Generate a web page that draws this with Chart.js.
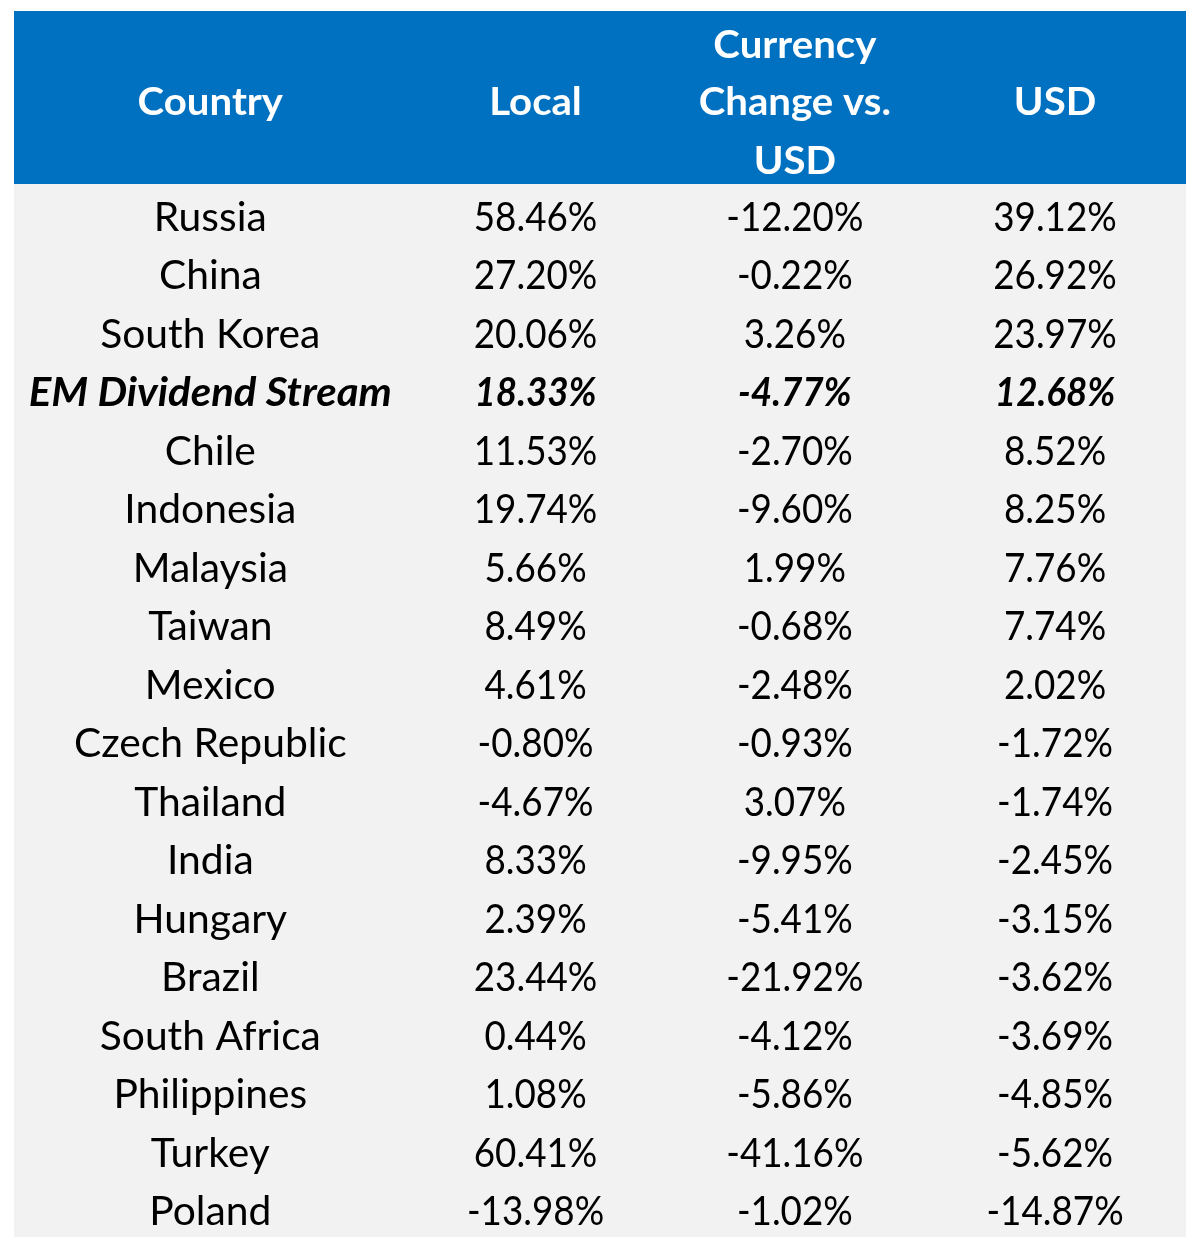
<!DOCTYPE html>
<html lang="en">
  <head>
    <meta charset="UTF-8" />
    <title>EM Dividend Stream - Returns by Country</title>
    <script src="https://cdn.jsdelivr.net/npm/chart.js"></script>
    <style>
      html,
      body {
        margin: 0;
        padding: 0;
        background: #ffffff;
      }
      #wrap {
        width: 1200px;
        height: 1250px;
      }
    </style>
  </head>
  <body>
    <div id="wrap"><canvas id="tableChart" width="1200" height="1250"></canvas></div>

    <script>
      // Table data
      const headers = [
        ["Country"],
        ["Local"],
        ["Currency", "Change vs.", "USD"],
        ["USD"],
      ];
      const countries = [
        "Russia", "China", "South Korea", "EM Dividend Stream", "Chile",
        "Indonesia", "Malaysia", "Taiwan", "Mexico", "Czech Republic",
        "Thailand", "India", "Hungary", "Brazil", "South Africa",
        "Philippines", "Turkey", "Poland",
      ];
      const localReturn = [
        58.46, 27.2, 20.06, 18.33, 11.53, 19.74, 5.66, 8.49, 4.61, -0.8,
        -4.67, 8.33, 2.39, 23.44, 0.44, 1.08, 60.41, -13.98,
      ];
      const currencyChange = [
        -12.2, -0.22, 3.26, -4.77, -2.7, -9.6, 1.99, -0.68, -2.48, -0.93,
        3.07, -9.95, -5.41, -21.92, -4.12, -5.86, -41.16, -1.02,
      ];
      const usdReturn = [
        39.12, 26.92, 23.97, 12.68, 8.52, 8.25, 7.76, 7.74, 2.02, -1.72,
        -1.74, -2.45, -3.15, -3.62, -3.69, -4.85, -5.62, -14.87,
      ];
      const highlightRow = "EM Dividend Stream";

      // Layout (column centres on the x scale, rows on the y scale)
      const colX = [0.67, 1.78, 2.665, 3.553];
      const headerTop = -2.96;
      const headerLineY = [-2.4, -1.42, -0.41];
      const rowOffset = 0.55;

      const columns = [
        countries,
        localReturn.map((v) => v.toFixed(2) + "%"),
        currencyChange.map((v) => v.toFixed(2) + "%"),
        usdReturn.map((v) => v.toFixed(2) + "%"),
      ];

      // one invisible point per cell, so every cell is placed by the scales
      const datasets = columns.map((col, c) => ({
        label: "col" + c,
        data: col.map((text, r) => ({ x: colX[c], y: r + rowOffset, text: text, row: r, col: c })),
        pointRadius: 0,
        pointHoverRadius: 0,
      }));

      const headerPoints = [];
      headers.forEach((lines, c) => {
        const start = lines.length === 1 ? 1 : 0;
        lines.forEach((t, k) => {
          headerPoints.push({ x: colX[c], y: headerLineY[start + k], text: t });
        });
      });
      datasets.push({
        label: "header",
        data: headerPoints,
        pointRadius: 0,
        pointHoverRadius: 0,
      });

      const CAP = 0.72; // Lato cap height ratio

      const tablePlugin = {
        id: "tablePlugin",
        beforeDatasetsDraw(chart) {
          const { ctx, scales } = chart;
          const x = scales.x;
          const y = scales.y;
          const left = x.getPixelForValue(x.min);
          const right = x.getPixelForValue(x.max);
          const top = y.getPixelForValue(headerTop);
          const mid = y.getPixelForValue(0);
          const bottom = y.getPixelForValue(countries.length);
          ctx.save();
          ctx.fillStyle = "#0070C0";
          ctx.fillRect(left, top, right - left, mid - top);
          ctx.fillStyle = "#F2F2F2";
          ctx.fillRect(left, mid, right - left, bottom - mid);
          ctx.restore();
        },
        afterDatasetsDraw(chart) {
          const { ctx } = chart;
          ctx.save();
          ctx.textAlign = "center";
          ctx.textBaseline = "alphabetic";
          chart.data.datasets.forEach((ds, i) => {
            const meta = chart.getDatasetMeta(i);
            const isHeader = ds.label === "header";
            meta.data.forEach((pt, j) => {
              const cell = ds.data[j];
              let size = 40;
              let font, color, sx;
              if (isHeader) {
                size = 39;
                font = "bold " + size + "px Lato";
                color = "#ffffff";
                sx = 1.03;
              } else if (countries[cell.row] === highlightRow) {
                font = "italic bold " + size + "px Lato";
                color = "#000000";
                sx = cell.col === 0 ? 1.05 : 0.92;
              } else {
                font = size + "px Lato";
                color = "#000000";
                sx = cell.col === 0 ? 1.02 : 0.92;
              }
              ctx.font = font;
              ctx.fillStyle = color;
              const base = pt.y + (size * CAP) / 2;
              ctx.save();
              ctx.translate(pt.x, base);
              ctx.scale(sx, 1);
              ctx.fillText(cell.text, 0, 0);
              ctx.restore();
            });
          });
          ctx.restore();
        },
      };

      new Chart(document.getElementById("tableChart"), {
        type: "scatter",
        data: { datasets: datasets },
        options: {
          responsive: false,
          animation: false,
          devicePixelRatio: 1,
          layout: { padding: { left: 14, right: 14, top: 11, bottom: 13 } },
          plugins: {
            legend: { display: false },
            tooltip: { enabled: false },
          },
          events: [],
          scales: {
            x: { type: "linear", min: 0, max: 4, display: false },
            y: {
              type: "linear",
              min: headerTop,
              max: countries.length,
              reverse: true,
              display: false,
            },
          },
        },
        plugins: [tablePlugin],
      });
    </script>
  </body>
</html>
